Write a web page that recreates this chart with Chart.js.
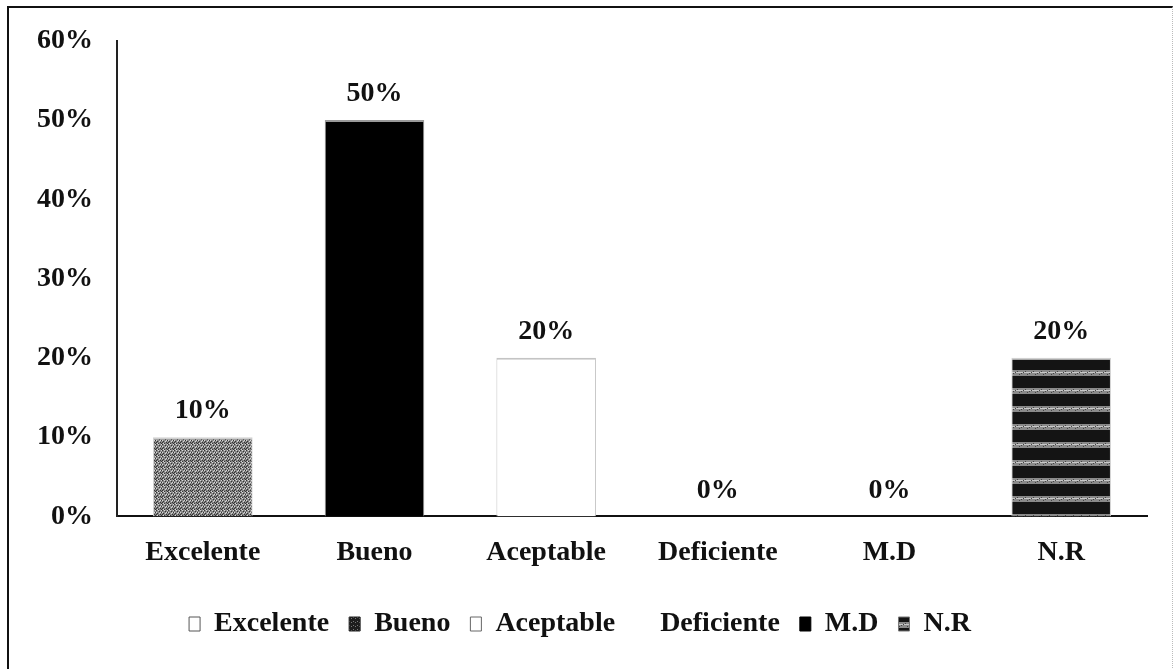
<!DOCTYPE html>
<html>
<head>
<meta charset="utf-8">
<script src="https://cdn.jsdelivr.net/npm/chart.js@4.4.1/dist/chart.umd.min.js"></script>
<style>
  html, body { margin: 0; padding: 0; background: #fff; }
  body { width: 1175px; height: 669px; position: relative; overflow: hidden; }
  #frame { position: absolute; left: 7px; top: 6px; width: 1163px; height: 680px;
           border-left: 2px solid #111; border-top: 2px solid #111; border-right: 1px dotted #bbb; }
  #c { position: absolute; left: 0; top: 0; }
</style>
</head>
<body>
<div id="frame"></div>
<canvas id="c" width="1175" height="669"></canvas>
<script>
const categories = ['Excelente', 'Bueno', 'Aceptable', 'Deficiente', 'M.D', 'N.R'];
const percentages = [10, 50, 20, 0, 0, 20];
const yTickValues = [0, 10, 20, 30, 40, 50, 60];
const legendLabels = ['Excelente', 'Bueno', 'Aceptable', 'Deficiente', 'M.D', 'N.R'];

function makePattern(w, h, draw) {
  const cv = document.createElement('canvas');
  cv.width = w; cv.height = h;
  const g = cv.getContext('2d');
  draw(g);
  return g.createPattern(cv, 'repeat');
}
// grey speckle texture
const speckle = makePattern(6, 6, g => {
  g.fillStyle = '#878787'; g.fillRect(0, 0, 6, 6);
  g.fillStyle = '#333333';
  [[0,0],[3,1],[5,2],[1,3],[4,4],[2,5],[0,4],[5,5]].forEach(p => g.fillRect(p[0], p[1], 1, 1));
  g.fillStyle = '#d8d8d8';
  [[2,0],[5,0],[0,2],[3,3],[1,5],[4,2]].forEach(p => g.fillRect(p[0], p[1], 1, 1));
});
// horizontal stripe texture
const stripes = makePattern(8, 18, g => {
  g.fillStyle = '#141414'; g.fillRect(0, 0, 8, 18);
  g.fillStyle = '#8a8a8a'; g.fillRect(0, 10, 8, 6);
  g.fillStyle = '#c8c8c8'; g.fillRect(0, 12, 8, 1);
  g.fillStyle = '#444'; [[1,11],[5,13],[3,14],[7,12]].forEach(p => g.fillRect(p[0], p[1], 1, 1));
});
const darkSpeckle = makePattern(4, 4, g => {
  g.fillStyle = '#1e1e1e'; g.fillRect(0, 0, 4, 4);
  g.fillStyle = '#777'; g.fillRect(1, 1, 1, 1); g.fillRect(3, 2, 1, 1);
});

const barFills = [speckle, '#000000', '#ffffff', '#ffffff', '#000000', stripes];
const barBorders = ['#cfcfcf', '#9a9a9a', '#c4c4c4', '#ffffff', '#000000', '#d0d0d0'];
const legendFills = ['#ffffff', darkSpeckle, '#ffffff', '#ffffff', '#000000', stripes];
const legendStrokes = ['#555', '#222', '#666', '#ffffff', '#000', '#777'];

const FONT = { family: '"Liberation Serif", "Times New Roman", serif', size: 28, weight: 'bold' };

const valueLabels = {
  id: 'valueLabels',
  afterDatasetsDraw(chart) {
    const ctx = chart.ctx;
    const meta = chart.getDatasetMeta(0);
    ctx.save();
    ctx.font = 'bold 28px "Liberation Serif", "Times New Roman", serif';
    ctx.fillStyle = '#111';
    ctx.textAlign = 'center';
    ctx.textBaseline = 'middle';
    meta.data.forEach((bar, i) => {
      ctx.fillText(percentages[i] + '%', bar.x, bar.y - 26);
    });
    ctx.restore();
  }
};

new Chart(document.getElementById('c'), {
  type: 'bar',
  data: {
    labels: categories,
    datasets: [{
      data: percentages,
      backgroundColor: barFills,
      borderColor: barBorders,
      borderWidth: { top: 2, left: 1, right: 1, bottom: 0 },
      borderSkipped: 'start',
      barPercentage: 0.58,
      categoryPercentage: 1.0
    }]
  },
  options: {
    responsive: false,
    animation: false,
    devicePixelRatio: 1,
    layout: { padding: { left: 13, right: 28, top: 18, bottom: 21 } },
    plugins: {
      tooltip: { enabled: false },
      legend: {
        position: 'bottom',
        labels: {
          font: FONT,
          color: '#111',
          boxWidth: 11,
          boxHeight: 14,
          padding: 20,
          generateLabels() {
            return legendLabels.map((t, i) => ({
              text: t,
              fillStyle: legendFills[i],
              strokeStyle: legendStrokes[i],
              lineWidth: 1,
              hidden: false,
              index: i,
              fontColor: '#111'
            }));
          }
        }
      }
    },
    scales: {
      x: {
        grid: { display: false, drawTicks: false },
        border: { display: true, color: '#111', width: 2 },
        ticks: { font: FONT, color: '#111', padding: 20 }
      },
      y: {
        min: 0, max: 60,
        afterBuildTicks(axis) { axis.ticks = yTickValues.map(v => ({ value: v })); },
        grid: { display: false, drawTicks: false },
        border: { display: true, color: '#222', width: 2 },
        ticks: { font: FONT, color: '#111', padding: 24, callback: v => v + '%' }
      }
    }
  },
  plugins: [valueLabels]
});
</script>
</body>
</html>
